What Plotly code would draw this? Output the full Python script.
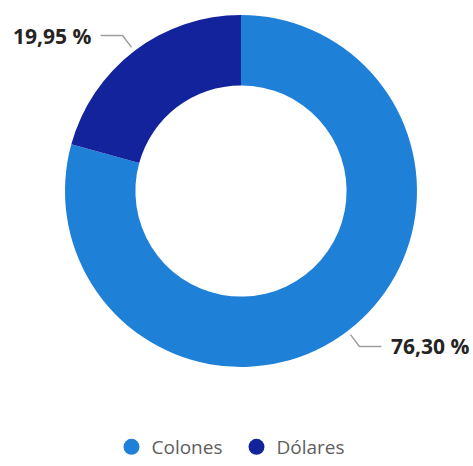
import math
import plotly.graph_objects as go

# ---- data ----
categories = ["Colones", "Dólares"]
values = [76.30, 19.95]
label_text = ["76,30 %", "19,95 %"]
colors = ["#1F80D8", "#13239C"]

# ---- layout geometry (pixels) ----
W, H = 473, 466
cx, cy, r = 241, 191, 176


def px(x):
    return x / W


def py(y):
    return 1 - y / H


fig = go.Figure()
fig.add_trace(go.Pie(
    labels=categories, values=values, hole=0.6, sort=False,
    direction="clockwise", rotation=0,
    marker=dict(colors=colors, line=dict(width=0)),
    textinfo="none", hoverinfo="skip", showlegend=False,
    domain=dict(x=[px(cx - r), px(cx + r)], y=[py(cy + r), py(cy - r)]),
))

# legend entries with circle markers
for name, col in zip(categories, colors):
    fig.add_trace(go.Scatter(
        x=[None], y=[None], mode="markers", name=name,
        marker=dict(symbol="circle", size=16, color=col),
        hoverinfo="skip", showlegend=True,
    ))

# leader lines and labels computed from the slice angles
total = sum(values)
cum = 0.0
shapes = []
annotations = []
for v, txt in zip(values, label_text):
    mid = (cum + v / 2) / total * 2 * math.pi
    cum += v
    s, c = math.sin(mid), math.cos(mid)
    x0, y0 = cx + 1.026 * r * s, cy - 1.026 * r * c
    x1, y1 = cx + 1.11 * r * s, cy - 1.11 * r * c
    side = 1 if s > 0 else -1
    x2 = x1 + side * 22
    shapes.append(dict(
        type="path", xref="paper", yref="paper",
        path=f"M {px(x0)},{py(y0)} L {px(x1)},{py(y1)} L {px(x2)},{py(y1)}",
        line=dict(color="#9E9E9E", width=1.5),
    ))
    annotations.append(dict(
        x=px(x2 + side * 8), y=py(y1), xref="paper", yref="paper",
        text=f"<b>{txt}</b>", showarrow=False,
        xanchor="left" if side > 0 else "right", yanchor="middle",
        font=dict(size=21, color="#252423", family="Open Sans, Noto Sans, sans-serif"),
    ))

fig.update_layout(
    width=W, height=H,
    margin=dict(l=0, r=0, t=0, b=0, autoexpand=False),
    paper_bgcolor="white", plot_bgcolor="white",
    xaxis=dict(visible=False), yaxis=dict(visible=False),
    shapes=shapes, annotations=annotations,
    showlegend=True,
    legend=dict(
        orientation="h", x=0.5, xanchor="center", y=0, yanchor="bottom",
        font=dict(size=19, color="#605E5C", family="Open Sans, Noto Sans, sans-serif"),
        entrywidth=80, entrywidthmode="pixels",
        itemclick=False, itemdoubleclick=False,
    ),
    font=dict(family="Open Sans, Noto Sans, sans-serif"),
)

fig.write_html(
    "out.html",
    config={"displayModeBar": False, "staticPlot": True},
    post_script="document.body.style.margin='0';document.body.style.overflow='hidden';",
)
